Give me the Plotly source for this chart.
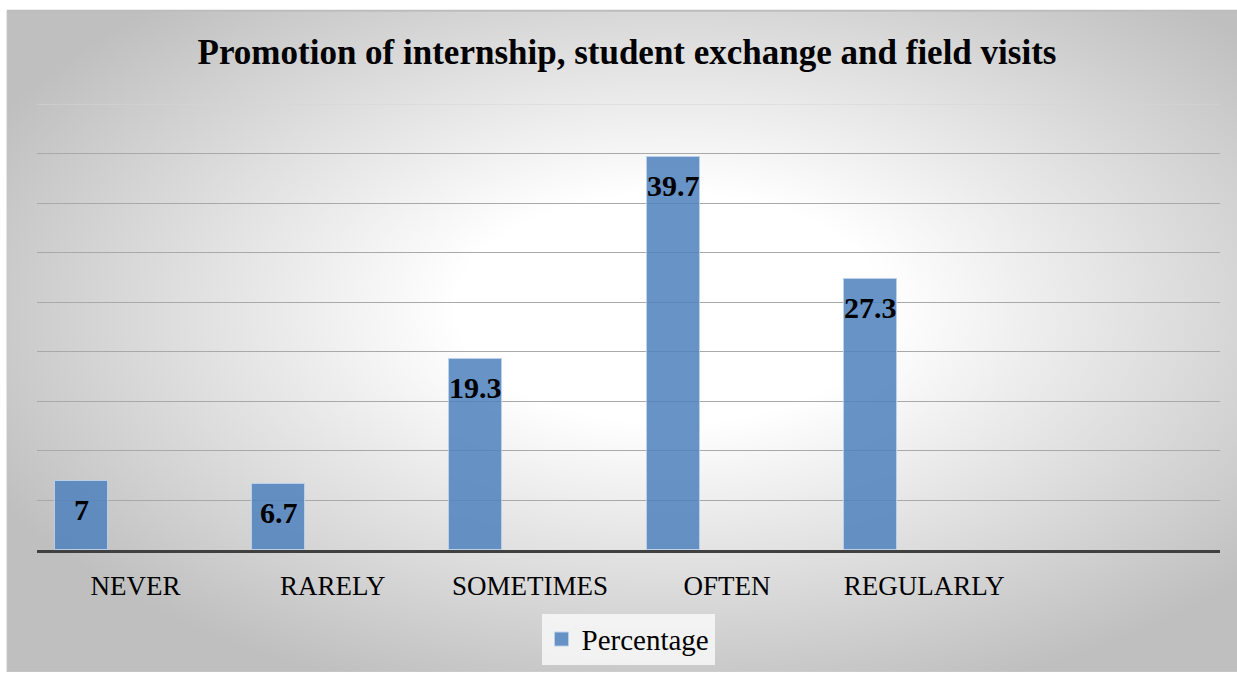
import numpy as np
import urllib.parse
import plotly.graph_objects as go

categories = ["NEVER", "RARELY", "SOMETIMES", "OFTEN", "REGULARLY"]
percentages = [7, 6.7, 19.3, 39.7, 27.3]
value_labels = ["7", "6.7", "19.3", "39.7", "27.3"]
series_name = "Percentage"
title_text = "Promotion of internship, student exchange and field visits"

W, H = 1237, 677
ML, MR, MT, MB = 37, 17, 104, 123
plot_w = W - ML - MR
plot_h = H - MT - MB

xpos = np.arange(len(categories))
bar_w = 0.269
bar_center_shift = -0.274
bx = xpos + bar_center_shift

FONT = "Liberation Serif, Times New Roman, serif"
BAR_COLOR = "rgba(79,129,189,0.86)"

fig = go.Figure()
fig.add_trace(go.Bar(
    x=bx, y=percentages, width=bar_w, name=series_name, showlegend=False,
    marker=dict(color=BAR_COLOR,
                line=dict(color="rgba(190,210,235,0.9)", width=1)),
    hoverinfo="skip",
))
fig.add_trace(go.Scatter(
    x=[None], y=[None], mode="markers", name=series_name,
    marker=dict(symbol="square", size=14, color=BAR_COLOR,
                line=dict(color="rgba(190,210,235,0.9)", width=1)),
    showlegend=True, hoverinfo="skip"))

for xv, yv, lab in zip(bx, percentages, value_labels):
    fig.add_annotation(x=xv, y=yv, text="<b>%s</b>" % lab, showarrow=False,
                       yanchor="top", xanchor="center", yshift=-10,
                       font=dict(family=FONT, size=30, color="black"))

svg = ("<svg xmlns='http://www.w3.org/2000/svg' width='1230' height='667'>"
       "<defs><radialGradient id='g' cx='0.54' cy='0.45' r='0.62' fx='0.54' fy='0.45'>"
       "<stop offset='0' stop-color='#ffffff'/>"
       "<stop offset='0.28' stop-color='#ffffff'/>"
       "<stop offset='1' stop-color='#bfbfbf'/>"
       "</radialGradient></defs>"
       "<rect width='1230' height='667' fill='url(#g)'/></svg>")
src = "data:image/svg+xml;charset=utf-8," + urllib.parse.quote(svg)

fx0, fy0 = 7, 10
fig.add_layout_image(dict(
    source=src, xref="paper", yref="paper",
    x=(fx0 - ML) / plot_w, y=(H - MB - fy0) / plot_h,
    sizex=(W - fx0) / plot_w, sizey=(H - fy0) / plot_h,
    xanchor="left", yanchor="top", sizing="stretch", layer="below"))

fig.add_shape(type="line", xref="paper", yref="paper",
              x0=(fx0 - ML) / plot_w, x1=(W - ML) / plot_w,
              y0=(H - MB - fy0) / plot_h, y1=(H - MB - fy0) / plot_h,
              line=dict(color="#bdbdbd", width=2))
fig.add_shape(type="line", xref="paper", yref="paper",
              x0=(fx0 - ML) / plot_w, x1=(fx0 - ML) / plot_w,
              y0=(H - MB - fy0) / plot_h, y1=-MB / plot_h,
              line=dict(color="#c8c8c8", width=1))
fig.add_shape(type="line", xref="paper", yref="y", x0=0, x1=1, y0=45, y1=45,
              line=dict(color="#d6d6d6", width=1), layer="below")

fig.update_layout(
    width=W, height=H,
    margin=dict(l=ML, r=MR, t=MT, b=MB),
    paper_bgcolor="white", plot_bgcolor="rgba(0,0,0,0)",
    title=dict(text="<b>%s</b>" % title_text, x=627 / W, xanchor="center",
               y=1 - 52 / H, yanchor="middle",
               font=dict(family=FONT, size=35, color="black")),
    font=dict(family=FONT, color="black"),
    showlegend=True,
    legend=dict(x=(628 - ML) / plot_w, xanchor="center",
                y=(H - MB - 644) / plot_h, yanchor="middle",
                orientation="h", bgcolor="rgba(248,248,248,0.85)",
                font=dict(family=FONT, size=29, color="black"),
                itemwidth=30),
    xaxis=dict(range=[-0.5, 5.5], tickvals=xpos, ticktext=categories,
               showgrid=False, zeroline=False, showline=True,
               linecolor="#404040", linewidth=3, ticks="",
               ticklabelstandoff=10,
               tickfont=dict(family=FONT, size=27, color="black"),
               fixedrange=True),
    yaxis=dict(range=[0, 45], dtick=5, showticklabels=False,
               showgrid=True, gridcolor="#a9a9a9", gridwidth=1,
               zeroline=False, showline=False, ticks="", fixedrange=True),
    bargap=0,
)

fig.write_html("out.html")
